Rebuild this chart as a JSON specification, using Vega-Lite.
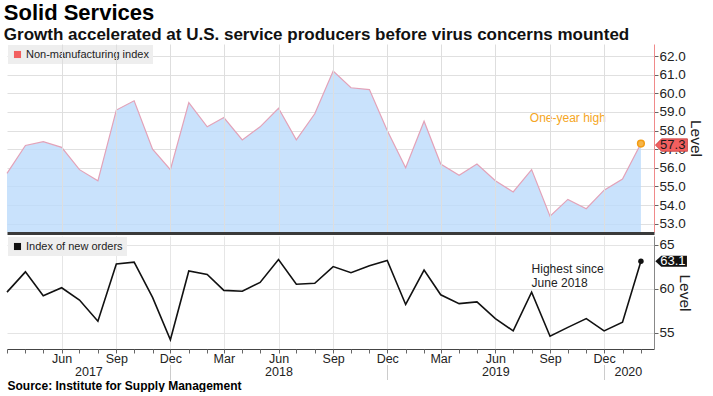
{
  "$schema": "https://vega.github.io/schema/vega-lite/v6.json",
  "padding": {"left": 3, "top": 2, "right": 8, "bottom": 0},
  "config": {
    "font": "Liberation Sans",
    "view": {"stroke": null},
    "axis": {"labelFont": "Liberation Sans", "labelColor": "#222", "titleFont": "Liberation Sans", "titleColor": "#222"},
    "legend": {"labelFont": "Liberation Sans"}
  },
  "title": {
    "text": "Solid Services",
    "subtitle": "Growth accelerated at U.S. service producers before virus concerns mounted",
    "anchor": "start",
    "font": "Liberation Sans",
    "fontSize": 22,
    "fontWeight": "bold",
    "color": "#000",
    "subtitleFont": "Liberation Sans",
    "subtitleFontSize": 17,
    "subtitleFontWeight": "bold",
    "subtitleColor": "#111",
    "subtitlePadding": 2,
    "offset": 0
  },
  "datasets": {
    "ism": [
      {"date": "2017-03-01", "nonmfg": 55.7, "orders": 59.6},
      {"date": "2017-04-01", "nonmfg": 57.2, "orders": 61.9},
      {"date": "2017-05-01", "nonmfg": 57.4, "orders": 59.2},
      {"date": "2017-06-01", "nonmfg": 57.1, "orders": 60.1},
      {"date": "2017-07-01", "nonmfg": 55.9, "orders": 58.7},
      {"date": "2017-08-01", "nonmfg": 55.3, "orders": 56.3},
      {"date": "2017-09-01", "nonmfg": 59.1, "orders": 62.8},
      {"date": "2017-10-01", "nonmfg": 59.6, "orders": 63.0},
      {"date": "2017-11-01", "nonmfg": 57.0, "orders": 59.0},
      {"date": "2017-12-01", "nonmfg": 55.9, "orders": 54.2},
      {"date": "2018-01-01", "nonmfg": 59.5, "orders": 62.0},
      {"date": "2018-02-01", "nonmfg": 58.2, "orders": 61.6},
      {"date": "2018-03-01", "nonmfg": 58.7, "orders": 59.8},
      {"date": "2018-04-01", "nonmfg": 57.5, "orders": 59.7},
      {"date": "2018-05-01", "nonmfg": 58.2, "orders": 60.7},
      {"date": "2018-06-01", "nonmfg": 59.2, "orders": 63.3},
      {"date": "2018-07-01", "nonmfg": 57.5, "orders": 60.5},
      {"date": "2018-08-01", "nonmfg": 58.9, "orders": 60.6},
      {"date": "2018-09-01", "nonmfg": 61.2, "orders": 62.5},
      {"date": "2018-10-01", "nonmfg": 60.3, "orders": 61.8},
      {"date": "2018-11-01", "nonmfg": 60.2, "orders": 62.6},
      {"date": "2018-12-01", "nonmfg": 58.0, "orders": 63.2},
      {"date": "2019-01-01", "nonmfg": 56.0, "orders": 58.2},
      {"date": "2019-02-01", "nonmfg": 58.5, "orders": 62.1},
      {"date": "2019-03-01", "nonmfg": 56.2, "orders": 59.3},
      {"date": "2019-04-01", "nonmfg": 55.6, "orders": 58.3},
      {"date": "2019-05-01", "nonmfg": 56.2, "orders": 58.5},
      {"date": "2019-06-01", "nonmfg": 55.3, "orders": 56.6},
      {"date": "2019-07-01", "nonmfg": 54.7, "orders": 55.2},
      {"date": "2019-08-01", "nonmfg": 55.9, "orders": 59.6},
      {"date": "2019-09-01", "nonmfg": 53.4, "orders": 54.6},
      {"date": "2019-10-01", "nonmfg": 54.3, "orders": 55.6},
      {"date": "2019-11-01", "nonmfg": 53.8, "orders": 56.6},
      {"date": "2019-12-01", "nonmfg": 54.8, "orders": 55.2},
      {"date": "2020-01-01", "nonmfg": 55.4, "orders": 56.2},
      {"date": "2020-02-01", "nonmfg": 57.3, "orders": 63.1}
    ],
    "latest": [
      {"date": "2020-02-01", "nonmfg": 57.3, "orders": 63.1, "nonmfg_name": "Non-manufacturing index", "orders_name": "Index of new orders"}
    ],
    "notes_top": [
      {"date": "2019-10-01", "nonmfg": 58.7, "note": "One-year high"}
    ],
    "notes_bottom": [
      {"date": "2019-08-01", "orders": 62.2, "note": "Highest since\nJune 2018"}
    ]
  },
  "spacing": 3,
  "resolve": {
    "scale": {"x": "independent", "y": "independent", "fill": "independent"},
    "legend": {"fill": "independent"}
  },
  "vconcat": [
    {
      "width": 647,
      "height": 188,
      "layer": [
        {
          "data": {"name": "ism"},
          "mark": {"type": "area", "fill": "#bbdbfb", "fillOpacity": 0.8, "clip": true},
          "encoding": {
            "x": {
              "field": "date", "type": "temporal",
              "scale": {"type": "utc", "domain": [{"year": 2017, "month": 3, "date": 1, "utc": true}, {"year": 2020, "month": 2, "date": 23, "utc": true}]},
              "axis": {
                "values": [
                  {"year": 2017, "month": 6, "date": 1, "utc": true}, {"year": 2017, "month": 9, "date": 1, "utc": true}, {"year": 2017, "month": 12, "date": 1, "utc": true},
                  {"year": 2018, "month": 3, "date": 1, "utc": true}, {"year": 2018, "month": 6, "date": 1, "utc": true}, {"year": 2018, "month": 9, "date": 1, "utc": true}, {"year": 2018, "month": 12, "date": 1, "utc": true},
                  {"year": 2019, "month": 3, "date": 1, "utc": true}, {"year": 2019, "month": 6, "date": 1, "utc": true}, {"year": 2019, "month": 9, "date": 1, "utc": true}, {"year": 2019, "month": 12, "date": 1, "utc": true}
                ],
                "tickCount": 50,
                "labels": false, "ticks": false, "grid": true, "gridColor": "#dedede",
                "domainColor": "#3a3a3a", "domainWidth": 3, "offset": 1, "title": null, "zindex": 1
              }
            },
            "y": {
              "field": "nonmfg", "type": "quantitative",
              "scale": {"domain": [52.55, 62.65], "zero": false, "nice": false},
              "axis": {
                "orient": "right", "values": [53, 54, 55, 56, 57, 58, 59, 60, 61, 62], "tickCount": 50, "format": ".1f", "labelOverlap": false,
                "grid": true, "gridColor": "#e0e0e0", "domainColor": "#f08a8a", "tickColor": "#666", "tickSize": 4,
                "labelFontSize": 13.5, "labelPadding": 1, "title": "Level", "titleFontSize": 15.5, "titleFontWeight": "normal", "titlePadding": 2
              }
            }
          }
        },
        {
          "data": {"name": "ism"},
          "mark": {"type": "line", "stroke": "#e3a2b8", "strokeWidth": 1.2},
          "encoding": {
            "x": {"field": "date", "type": "temporal"},
            "y": {"field": "nonmfg", "type": "quantitative"}
          }
        },
        {
          "data": {"name": "latest"},
          "mark": {"type": "point", "filled": true, "fill": "#f7b548", "stroke": "#f39c12", "strokeWidth": 1.5, "size": 45, "opacity": 1},
          "encoding": {
            "x": {"field": "date", "type": "temporal"},
            "y": {"field": "nonmfg", "type": "quantitative"}
          }
        },
        {
          "data": {"name": "latest"},
          "mark": {"type": "point", "shape": "M -1 0 L -0.62 -0.39 L 1 -0.39 L 1 0.39 L -0.62 0.39 Z", "size": 1024, "filled": true, "stroke": "#c03c3c", "strokeWidth": 0.8, "xOffset": 30.5, "yOffset": 1.5, "opacity": 1},
          "encoding": {
            "x": {"field": "date", "type": "temporal"},
            "y": {"field": "nonmfg", "type": "quantitative"},
            "fill": {
              "field": "nonmfg_name", "type": "nominal", "scale": {"range": ["#f25f5f"]},
              "legend": {"orient": "top-left", "offset": 1, "padding": 4, "fillColor": "#eeeeee", "title": null, "labelFontSize": 11, "labelColor": "#222", "symbolType": "square", "symbolSize": 50, "symbolStrokeWidth": 0, "labelOffset": 3}
            }
          }
        },
        {
          "data": {"name": "latest"},
          "mark": {"type": "text", "xOffset": 31.8, "yOffset": 1.5, "fontSize": 13, "color": "#1a1a1a", "align": "center", "baseline": "middle"},
          "encoding": {
            "x": {"field": "date", "type": "temporal"},
            "y": {"field": "nonmfg", "type": "quantitative"},
            "text": {"field": "nonmfg", "type": "quantitative", "format": ".1f"}
          }
        },
        {
          "data": {"name": "notes_top"},
          "mark": {"type": "text", "fontSize": 12, "color": "#f5a623", "align": "center", "baseline": "middle"},
          "encoding": {
            "x": {"field": "date", "type": "temporal"},
            "y": {"field": "nonmfg", "type": "quantitative"},
            "text": {"field": "note", "type": "nominal"}
          }
        }
      ]
    },
    {
      "width": 647,
      "height": 113,
      "resolve": {"axis": {"x": "independent"}},
      "layer": [
        {
          "data": {"name": "ism"},
          "mark": {"type": "line", "stroke": "#111", "strokeWidth": 1.6},
          "encoding": {
            "x": {
              "field": "date", "type": "temporal",
              "scale": {"type": "utc", "domain": [{"year": 2017, "month": 3, "date": 1, "utc": true}, {"year": 2020, "month": 2, "date": 23, "utc": true}]},
              "axis": {
                "orient": "bottom",
                "values": [
                  {"year": 2017, "month": 6, "date": 1, "utc": true}, {"year": 2017, "month": 9, "date": 1, "utc": true}, {"year": 2017, "month": 12, "date": 1, "utc": true},
                  {"year": 2018, "month": 3, "date": 1, "utc": true}, {"year": 2018, "month": 6, "date": 1, "utc": true}, {"year": 2018, "month": 9, "date": 1, "utc": true}, {"year": 2018, "month": 12, "date": 1, "utc": true},
                  {"year": 2019, "month": 3, "date": 1, "utc": true}, {"year": 2019, "month": 6, "date": 1, "utc": true}, {"year": 2019, "month": 9, "date": 1, "utc": true}, {"year": 2019, "month": 12, "date": 1, "utc": true}
                ],
                "tickCount": 50,
                "format": "%b", "grid": true, "gridColor": "#e6e6e6", "ticks": false, "domainColor": "#444",
                "labelPadding": 3, "labelFontSize": 12.5, "labelFlush": false, "labelOverlap": false, "title": null
              }
            },
            "y": {
              "field": "orders", "type": "quantitative",
              "scale": {"domain": [53.15, 65.97], "zero": false, "nice": false},
              "axis": {
                "orient": "right", "values": [55, 60, 65], "tickCount": 50, "format": "d", "grid": true, "gridColor": "#e4e4e4", "labelOverlap": false,
                "domainColor": "#888", "tickColor": "#666", "tickSize": 4,
                "labelFontSize": 13.5, "labelPadding": 1, "title": "Level", "titleFontSize": 15.5, "titleFontWeight": "normal", "titlePadding": 2
              }
            }
          }
        },
        {
          "data": {"name": "latest"},
          "mark": {"type": "point", "filled": true, "color": "#111", "size": 30, "opacity": 1},
          "encoding": {
            "x": {
              "field": "date", "type": "temporal",
              "axis": {
                "orient": "bottom",
                "values": [
                  {"year": 2017, "month": 3, "date": 1, "utc": true}, {"year": 2017, "month": 4, "date": 1, "utc": true}, {"year": 2017, "month": 5, "date": 1, "utc": true}, {"year": 2017, "month": 6, "date": 1, "utc": true},
                  {"year": 2017, "month": 7, "date": 1, "utc": true}, {"year": 2017, "month": 8, "date": 1, "utc": true}, {"year": 2017, "month": 9, "date": 1, "utc": true}, {"year": 2017, "month": 10, "date": 1, "utc": true},
                  {"year": 2017, "month": 11, "date": 1, "utc": true}, {"year": 2017, "month": 12, "date": 1, "utc": true},
                  {"year": 2018, "month": 1, "date": 1, "utc": true}, {"year": 2018, "month": 2, "date": 1, "utc": true}, {"year": 2018, "month": 3, "date": 1, "utc": true}, {"year": 2018, "month": 4, "date": 1, "utc": true},
                  {"year": 2018, "month": 5, "date": 1, "utc": true}, {"year": 2018, "month": 6, "date": 1, "utc": true}, {"year": 2018, "month": 7, "date": 1, "utc": true}, {"year": 2018, "month": 8, "date": 1, "utc": true},
                  {"year": 2018, "month": 9, "date": 1, "utc": true}, {"year": 2018, "month": 10, "date": 1, "utc": true}, {"year": 2018, "month": 11, "date": 1, "utc": true}, {"year": 2018, "month": 12, "date": 1, "utc": true},
                  {"year": 2019, "month": 1, "date": 1, "utc": true}, {"year": 2019, "month": 2, "date": 1, "utc": true}, {"year": 2019, "month": 3, "date": 1, "utc": true}, {"year": 2019, "month": 4, "date": 1, "utc": true},
                  {"year": 2019, "month": 5, "date": 1, "utc": true}, {"year": 2019, "month": 6, "date": 1, "utc": true}, {"year": 2019, "month": 7, "date": 1, "utc": true}, {"year": 2019, "month": 8, "date": 1, "utc": true},
                  {"year": 2019, "month": 9, "date": 1, "utc": true}, {"year": 2019, "month": 10, "date": 1, "utc": true}, {"year": 2019, "month": 11, "date": 1, "utc": true}, {"year": 2019, "month": 12, "date": 1, "utc": true},
                  {"year": 2020, "month": 1, "date": 1, "utc": true}, {"year": 2020, "month": 2, "date": 1, "utc": true}
                ],
                "tickCount": 100,
                "labels": false, "grid": false, "domain": false, "ticks": true, "tickSize": 4, "tickColor": "#666", "title": null
              }
            },
            "y": {"field": "orders", "type": "quantitative"}
          }
        },
        {
          "data": {"name": "latest"},
          "mark": {"type": "point", "shape": "M -1 0 L -0.62 -0.35 L 1 -0.35 L 1 0.35 L -0.62 0.35 Z", "size": 1000, "filled": true, "xOffset": 30.2, "opacity": 1},
          "encoding": {
            "x": {
              "field": "date", "type": "temporal",
              "axis": {
                "orient": "bottom",
                "values": [
                  {"year": 2017, "month": 7, "date": 16, "utc": true}, {"year": 2018, "month": 6, "date": 1, "utc": true},
                  {"year": 2019, "month": 6, "date": 1, "utc": true}, {"year": 2020, "month": 1, "date": 10, "utc": true}
                ],
                "tickCount": 50,
                "labelExpr": "utcFormat(datum.value, '%Y')", "offset": 14, "domain": false, "ticks": false, "grid": false,
                "labelPadding": 2, "labelFontSize": 12.5, "labelFlush": false, "labelOverlap": false,
                "title": "Source: Institute for Supply Management", "titleAnchor": "start", "titleAlign": "left",
                "titleFontSize": 12, "titleFontWeight": "bold", "titleColor": "#000", "titlePadding": 3
              }
            },
            "y": {"field": "orders", "type": "quantitative"},
            "fill": {
              "field": "orders_name", "type": "nominal", "scale": {"range": ["#111111"]},
              "legend": {"orient": "top-left", "offset": 1, "padding": 4, "fillColor": "#eeeeee", "title": null, "labelFontSize": 11, "labelColor": "#222", "symbolType": "square", "symbolSize": 50, "symbolStrokeWidth": 0, "labelOffset": 3}
            }
          }
        },
        {
          "data": {"name": "latest"},
          "mark": {"type": "text", "xOffset": 32, "fontSize": 13, "color": "#ffffff", "align": "center", "baseline": "middle"},
          "encoding": {
            "x": {
              "field": "date", "type": "temporal",
              "axis": {
                "orient": "bottom",
                "values": [
                  {"year": 2017, "month": 12, "date": 1, "utc": true}, {"year": 2018, "month": 12, "date": 1, "utc": true}, {"year": 2019, "month": 12, "date": 1, "utc": true}
                ],
                "tickCount": 50,
                "labels": false, "domain": false, "grid": false, "ticks": true, "tickSize": 15, "tickColor": "#cccccc", "offset": 15.5, "title": null
              }
            },
            "y": {"field": "orders", "type": "quantitative"},
            "text": {"field": "orders", "type": "quantitative", "format": ".1f"}
          }
        },
        {
          "data": {"name": "notes_bottom"},
          "mark": {"type": "text", "fontSize": 12, "color": "#222", "align": "left", "baseline": "middle", "lineBreak": "\n", "lineHeight": 13.5},
          "encoding": {
            "x": {"field": "date", "type": "temporal", "axis": null},
            "y": {"field": "orders", "type": "quantitative"},
            "text": {"field": "note", "type": "nominal"}
          }
        }
      ]
    }
  ]
}
